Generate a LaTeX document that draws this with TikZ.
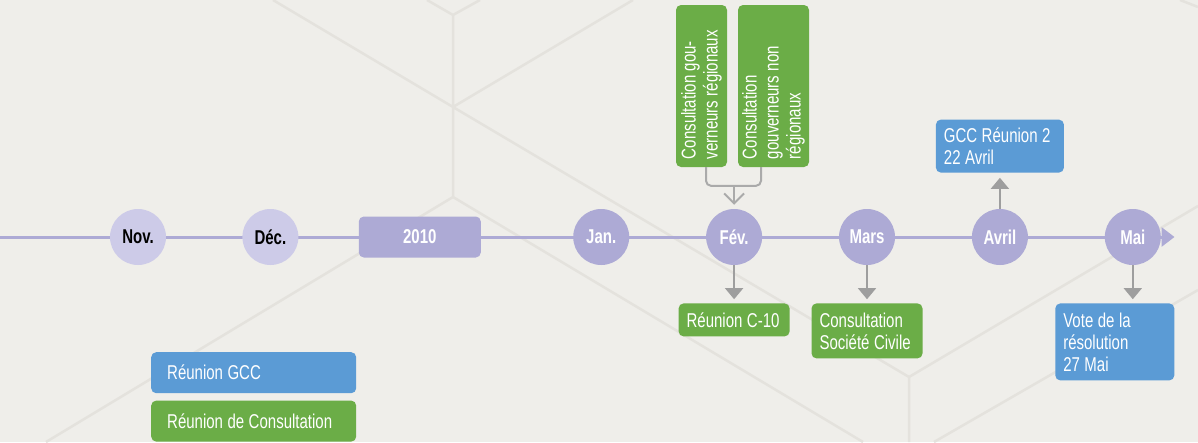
\documentclass[tikz,border=0pt]{standalone}
\usepackage{fontspec}
\setmainfont{Liberation Sans}[FakeStretch=0.75]
\usepackage{tikz}
\usetikzlibrary{positioning, arrows.meta, backgrounds}

\definecolor{bgpaper}{RGB}{239,238,234}
\definecolor{hexline}{RGB}{228,226,221}
\definecolor{tlpurple}{RGB}{173,170,213}
\definecolor{lightpurple}{RGB}{205,203,232}
\definecolor{evgreen}{RGB}{107,173,71}
\definecolor{evblue}{RGB}{91,155,213}
\definecolor{arrowgray}{RGB}{158,158,158}
\definecolor{bracketgray}{RGB}{170,170,170}
\DeclareRobustCommand{\evfont}{\fontsize{20}{22}\selectfont\spaceskip=4.5pt\relax}

\begin{document}
\begin{tikzpicture}[x=1pt, y=-1pt, node distance=38pt,
    month/.style={circle, fill=tlpurple, minimum size=56pt, inner sep=0pt, text=white, font=\fontsize{20}{22}\selectfont\bfseries},
    oldmonth/.style={month, fill=lightpurple, text=black},
    year/.style={rounded corners=5pt, fill=tlpurple, minimum width=122pt, minimum height=41pt, text=white, font=\fontsize{20}{22}\selectfont\bfseries},
    event/.style={rounded corners=5pt, text=white, align=flush left, inner xsep=8pt, inner ysep=3pt, font=\evfont},
    green_event/.style={event, fill=evgreen},
    blue_event/.style={event, fill=evblue},
    link/.style={draw=arrowgray, line width=1.5pt, -{Triangle[width=18pt,length=11pt]}, shorten >=4pt},
    bracket/.style={draw=bracketgray, line width=2pt},
    timeline/.style={draw=tlpurple, line width=3pt, -{Triangle[width=19pt,length=13pt]}}]
    \useasboundingbox (0,0) rectangle (1198,442);

    \node[oldmonth] (nov) at (138,237) {Nov.};
    \node[oldmonth, right=76pt of nov] (dec) {Déc.};
    \node[year, right=60pt of dec] (y2010) {2010};
    \node[month, right=92pt of y2010] (jan) {Jan.};
    \node[month, right=76.5pt of jan] (fev) {Fév.};
    \node[month, right=76.5pt of fev] (mars) {Mars};
    \node[month, right=76.5pt of mars] (avril) {Avril};
    \node[month, right=76.5pt of avril] (mai) {Mai};

    \node[green_event, rotate=90, text width=146pt, minimum width=160pt, minimum height=51pt] (consult_1) at (701.5,86) {Consultation gou-\\verneurs régionaux};
    \node[green_event, rotate=90, text width=146pt, minimum width=160pt, minimum height=71pt] (consult_2) at (773.5,86) {Consultation\\gouverneurs non\\régionaux};
    \node[green_event, below=of fev, text width=95pt, minimum height=33pt] (reunion_c10) {Réunion C-10};
    \node[green_event, below=of mars, text width=95pt, minimum height=55pt] (consult_sc) {Consultation\\Société Civile};
    \node[blue_event, above=36pt of avril, text width=112pt, minimum height=53pt] (gcc_2) {GCC Réunion 2\\22 Avril};
    \node[blue_event, below=of mai, xshift=-18pt, text width=103pt, minimum height=77pt] (vote) {Vote de la\\résolution\\27 Mai};

    \node[blue_event, anchor=north west, text width=173pt, inner xsep=16pt, minimum height=41pt] (legend_gcc) at (151,352) {Réunion GCC};
    \node[green_event, below=7pt of legend_gcc, text width=173pt, inner xsep=16pt, minimum height=41pt] (legend_consult) {Réunion de Consultation};
    % dot
    \coordinate[above=23pt of fev] (fev_join);
    \coordinate (tl_start) at (0,237);

    \draw[bracket, rounded corners=5pt] ([xshift=4.5pt]consult_1.west) |- (fev_join) -| ([xshift=-12.5pt]consult_2.west);
    \draw[bracket, -{Straight Barb[length=10pt,width=20pt]}, shorten >=4pt] (fev_join) -- (fev);
    \draw[link] (fev) -- (reunion_c10);
    \draw[link] (mars) -- (consult_sc);
    \draw[link, shorten >=5pt] (avril) -- (gcc_2);
    \draw[link] (mai) -- (mai |- vote.north);

    \begin{scope}[on background layer]
        \fill[bgpaper] (0,0) rectangle (1198,442);
        \draw[hexline, line width=2.5pt] (427,0) -- (453,15) -- (480,0) (453,15) -- (453,197)
            (273,0) -- (453,107) -- (633,0) (453,107) -- (909,377) -- (909,442) (909,377) -- (1198,206)
            (46,442) -- (453,197) -- (863,442) (934,442) -- (1198,290) (1180,0) -- (1198,7);
        \draw[timeline] (tl_start) -- ([xshift=13.5pt]mai.east);
    \end{scope}
\end{tikzpicture}
\end{document}
